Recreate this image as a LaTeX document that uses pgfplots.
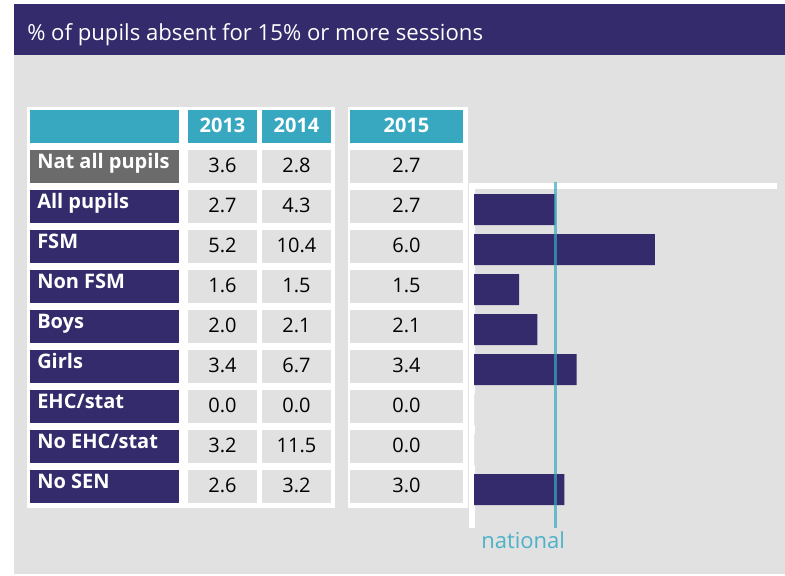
\documentclass[border=0pt]{standalone}
\usepackage{fontspec}
\setmainfont{Open Sans}
\usepackage{pgfplots}
\pgfplotsset{compat=1.18}
\definecolor{navy}{HTML}{332B6B}
\definecolor{bg}{HTML}{E1E1E1}
\definecolor{hdr}{HTML}{38A8C1}
\definecolor{natgray}{HTML}{6B6B6B}
\definecolor{nattext}{HTML}{4DB1C8}
\begin{document}
\begin{tikzpicture}[x=0.75pt,y=-0.75pt]
\path[use as bounding box] (0,0) rectangle (785,575);
\fill[white] (0,0) rectangle (785,575);
\fill[bg] (14,55) rectangle (785,574);
\fill[navy] (14,4) rectangle (785,55);
\node[anchor=base west, text=white, font=\fontsize{16.6}{19}\selectfont, inner sep=0pt] at (27,40) {\% of pupils absent for 15\% or more sessions};
% white table blocks
\fill[white] (27,107) rectangle (335,508);
\fill[white] (348,107) rectangle (468,508);
\fill[white] (469,183) rectangle (475,528);
\fill[white] (469,183) rectangle (777,189);
% header
\fill[hdr] (30,110) rectangle (179,143);
\fill[hdr] (188,110) rectangle (257,143);
\fill[hdr] (262,110) rectangle (331,143);
\fill[hdr] (350,110) rectangle (463,143);
\begin{scope}[every node/.style={anchor=base, text=white, inner sep=0pt, font=\fontsize{15}{18}\selectfont\bfseries}]
\node at (222.5,132) {2013};
\node at (296.5,132) {2014};
\node at (406.5,132) {2015};
\end{scope}
% rows
\foreach \lab/\a/\b/\c/\col [count=\i from 0] in {
  Nat all pupils/3.6/2.8/2.7/natgray,
  All pupils/2.7/4.3/2.7/navy,
  FSM/5.2/10.4/6.0/navy,
  Non FSM/1.6/1.5/1.5/navy,
  Boys/2.0/2.1/2.1/navy,
  Girls/3.4/6.7/3.4/navy,
  {EHC/stat}/0.0/0.0/0.0/navy,
  {No EHC/stat}/3.2/11.5/0.0/navy,
  No SEN/2.6/3.2/3.0/navy}{
  \pgfmathsetmacro\ry{150+40*\i}
  \fill[\col] (30,\ry) rectangle (179,\ry+33);
  \fill[bg] (188,\ry) rectangle (257,\ry+33);
  \fill[bg] (262,\ry) rectangle (331,\ry+33);
  \fill[bg] (350,\ry) rectangle (463,\ry+33);
  \node[anchor=base west, text=white, inner sep=0pt, font=\fontsize{15}{18}\selectfont\bfseries] at (37,\ry+18) {\lab};
  \node[anchor=base, text=black, inner sep=0pt, font=\fontsize{15}{18}\selectfont] at (222.5,\ry+22) {\a};
  \node[anchor=base, text=black, inner sep=0pt, font=\fontsize{15}{18}\selectfont] at (296.5,\ry+22) {\b};
  \node[anchor=base, text=black, inner sep=0pt, font=\fontsize{15}{18}\selectfont] at (406.5,\ry+22) {\c};
}
\coordinate (axc) at (624.75,355);
\begin{axis}[at={(axc)}, anchor=center, scale only axis,
  width=226.125pt, height=259.5pt,
  xmin=0, xmax=10, ymin=-0.6875, ymax=7.9625, y dir=reverse,
  hide axis, clip=false]
\addplot[xbar, fill=navy, draw=none, bar width=23.25pt] coordinates {
  (2.7,0) (6.0,1) (1.5,2) (2.1,3) (3.4,4) (0.0,5) (0.0,6) (3.0,7)};
\addplot[hdr, opacity=0.7, line width=2.25pt, line cap=butt] coordinates {
  (2.7,-0.6875) (2.7,7.9625)};
\end{axis}
\node[anchor=base west, text=nattext, inner sep=0pt, font=\fontsize{16.5}{19}\selectfont] at (481,548) {national};
\end{tikzpicture}
\end{document}
